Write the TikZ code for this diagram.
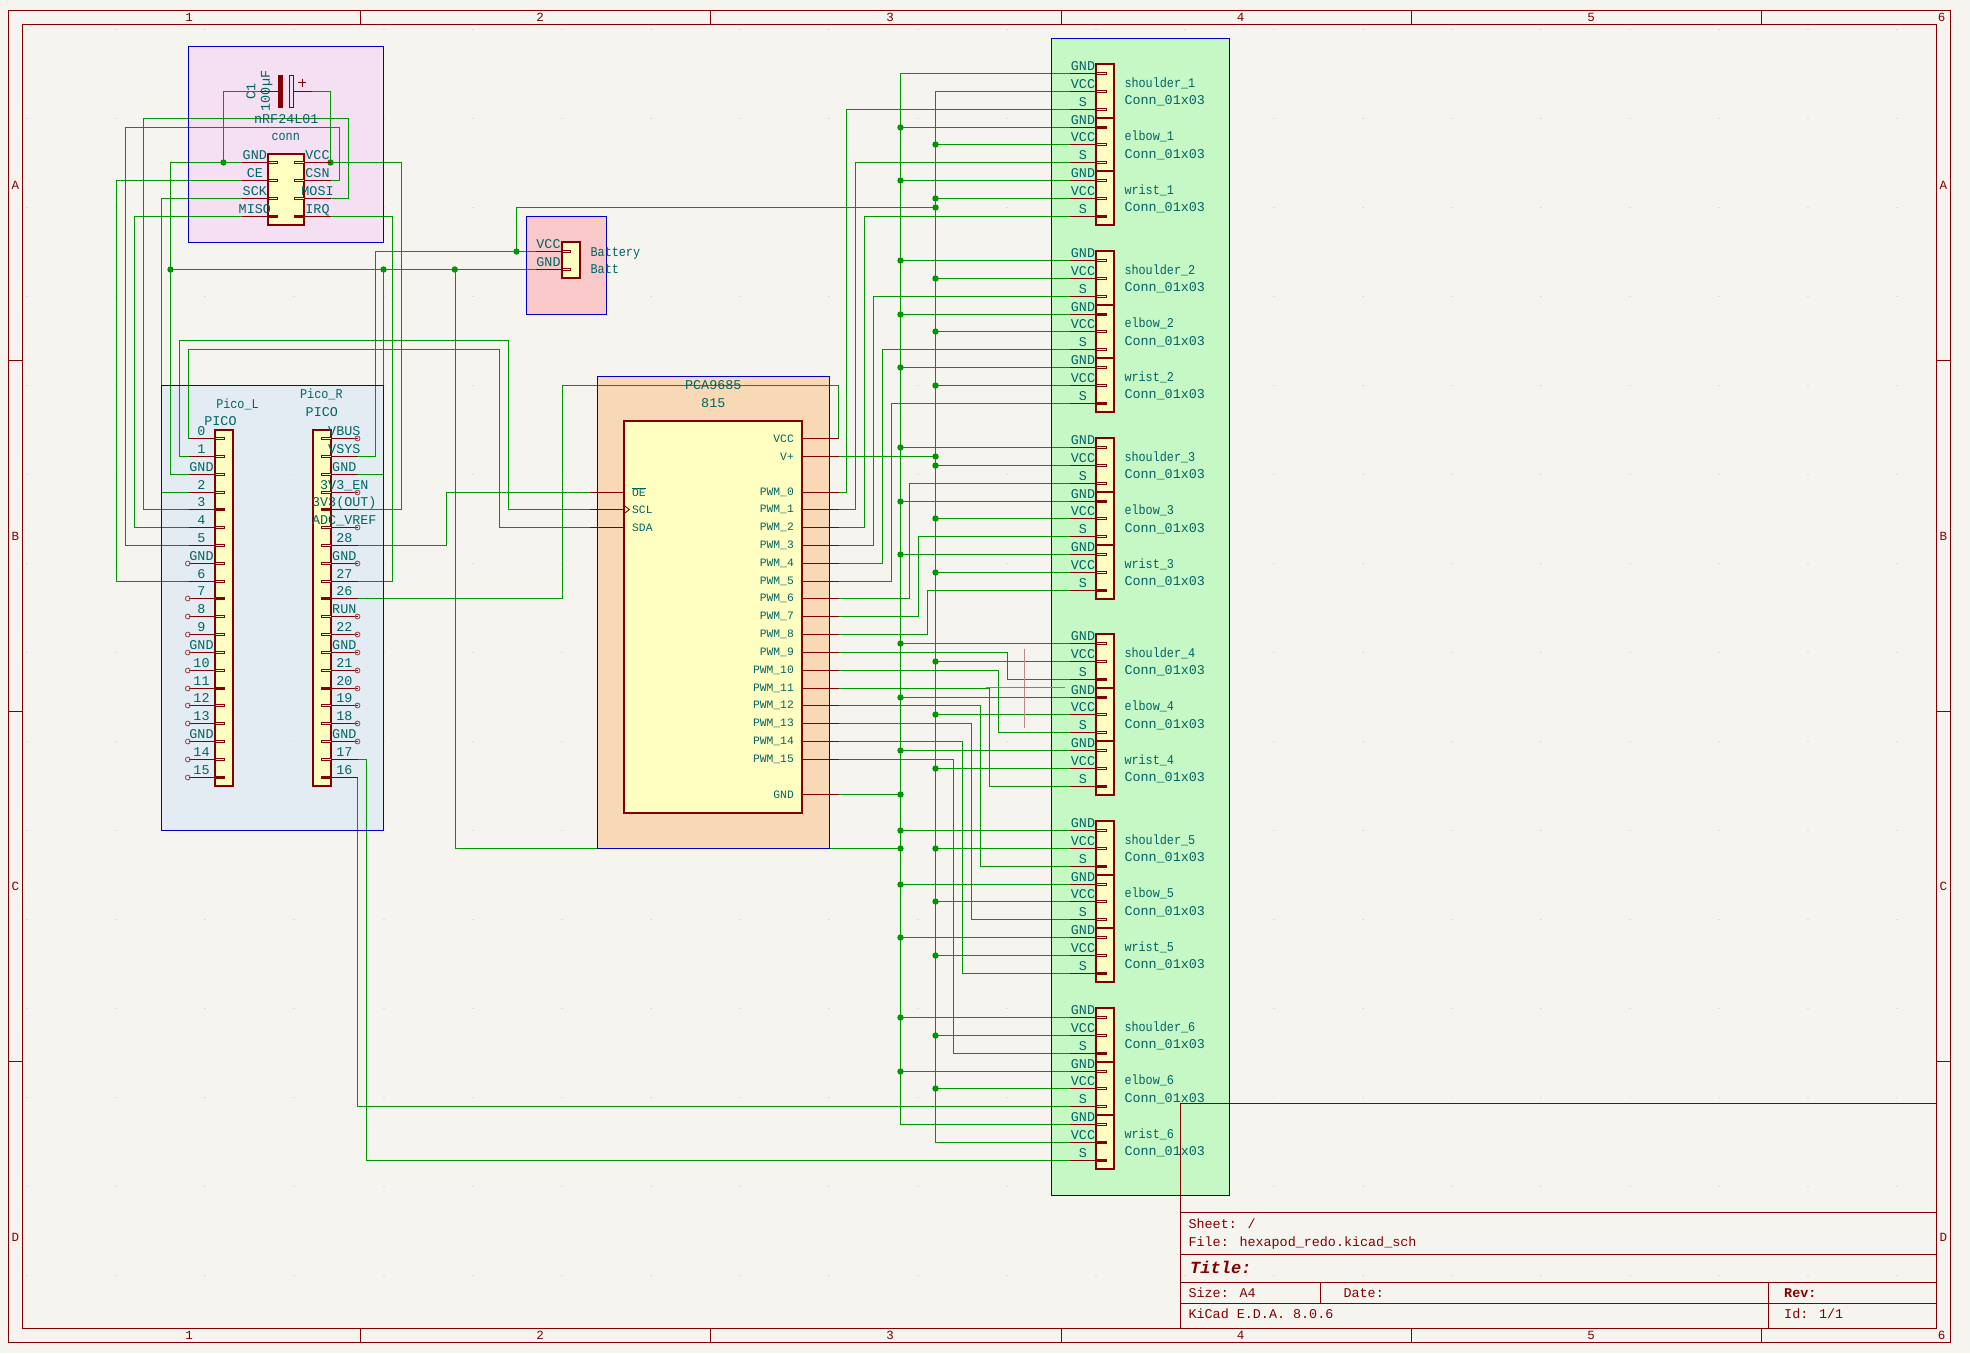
\documentclass[tikz,border=0pt]{standalone}
\usepackage{fontspec}
\usepackage{graphicx}
\usetikzlibrary{calc}
\setmainfont{Liberation Mono}
\definecolor{pagebg}{HTML}{F5F4EF}
\definecolor{wirec}{HTML}{009600}
\definecolor{pinc}{HTML}{840000}
\definecolor{txtc}{HTML}{006464}
\definecolor{bodyf}{HTML}{FFFFC2}
\definecolor{boxb}{HTML}{0000C8}
\definecolor{nrff}{HTML}{F4DFF3}
\definecolor{picof}{HTML}{E4ECF3}
\definecolor{pcaf}{HTML}{F9D9B5}
\definecolor{batf}{HTML}{F9C9C9}
\definecolor{connf}{HTML}{C6F8C6}
\tikzset{
  x=1pt,y=-1pt,
  wire/.style={draw=wirec,line width=1.2pt},
  pinl/.style={draw=pinc,line width=1.1pt},
  stubh/.style={draw=pinc,line width=.8pt,fill=bodyf},
  stubf/.style={draw=pinc,line width=2pt},
  bodyb/.style={draw=pinc,line width=2pt,fill=bodyf},
  sheetb/.style={draw=boxb,line width=1.1pt},
  frame/.style={draw=pinc,line width=1.1pt},
  lbl/.style={inner sep=0pt,text=txtc,font=\fontsize{13.4}{13.4}\selectfont},
  lblsm/.style={inner sep=0pt,text=txtc,font=\fontsize{11.3}{11.3}\selectfont},
  ttl/.style={inner sep=0pt,text=pinc,font=\fontsize{13.4}{13.4}\selectfont,anchor=base west},
  ttb/.style={inner sep=0pt,text=pinc,font=\fontsize{13.4}{13.4}\selectfont\bfseries,anchor=base west},
  frl/.style={inner sep=0pt,text=pinc,font=\fontsize{12.5}{12.5}\selectfont},
  nc/.style={draw=pinc!70!white,line width=.9pt},
}
\newcommand\jn[1]{\fill[wirec] (#1) circle (3.2);}
\newcommand\wirez[3]{\coordinate (tmpz) at (#2,0); \draw[wire] (#1) -- (tmpz|-#1) -- (tmpz|-#3) -- (#3);}
\newcommand\NW[1]{\scalebox{.88}[1]{#1}}
\begin{document}
\begin{tikzpicture}
\useasboundingbox (0,0) rectangle (1970,1353);
\fill[pagebg] (0,0) rectangle (1970,1353);
% sheet box fills
\fill[nrff] (188.5,46.5) rectangle (383.5,242.5);
\fill[batf] (526.5,216.5) rectangle (606.5,314.5);
\fill[picof] (161.5,385.5) rectangle (383.5,830.5);
\fill[pcaf] (597.5,376.5) rectangle (829.5,848.5);
\fill[connf] (1051.5,38.5) rectangle (1229.5,1195.5);
% grid marks
\foreach \k in {0,...,21}{\foreach \m in {0,...,14}{
  \fill[black!13] ({27.3+89.05*\k-1},{29.3+89*\m-.5}) rectangle ({27.3+89.05*\k+1},{29.3+89*\m+.5});
}}
% frame
\draw[frame] (8.5,10.5) rectangle (1950.5,1342.5);
\draw[frame] (22.5,24.5) rectangle (1936.5,1328.5);
\foreach \x in {360.5,710.5,1061.5,1411.5,1761.5}{
  \draw[frame] (\x,10.5) -- (\x,24.5);
  \draw[frame] (\x,1328.5) -- (\x,1342.5);
}
\foreach \y in {360.5,711.5,1061.5}{
  \draw[frame] (8.5,\y) -- (22.5,\y);
  \draw[frame] (1936.5,\y) -- (1950.5,\y);
}
\foreach \x/\t in {189/1,540/2,890/3,1240.5/4,1591/5,1941.7/6}{
  \node[frl] (ct\t) at (\x,17.5) {\t};
  \node[frl] (cb\t) at (\x,1335.3) {\t};
}
\foreach \y/\t in {185/A,536/B,886/C,1237/D}{
  \node[frl] (rl\t) at (15.5,\y) {\t};
  \node[frl] (rr\t) at (1943.3,\y) {\t};
}
% title block
\draw[frame] (1180.5,1328.5) -- (1180.5,1103.5) -- (1936.5,1103.5);
\draw[frame] (1180.5,1212.5) -- (1936.5,1212.5);
\draw[frame] (1180.5,1254.5) -- (1936.5,1254.5);
\draw[frame] (1180.5,1282.5) -- (1936.5,1282.5);
\draw[frame] (1180.5,1303.5) -- (1936.5,1303.5);
\draw[frame] (1320.5,1282.5) -- (1320.5,1303.5);
\draw[frame] (1768.5,1282.5) -- (1768.5,1328.5);
\node[ttl] (tsheet) at (1188.4,1228) {Sheet: /};
\node[ttl] (tfile) at (1188.4,1246.5) {File: hexapod\_redo.kicad\_sch};
\node[ttb,font=\fontsize{17}{17}\selectfont\bfseries\itshape] (ttitle) at (1190,1273) {Title:};
\node[ttl] (tsize) at (1188.4,1297.5) {Size: A4};
\node[ttl] (tdate) at (1343.4,1297.5) {Date:};
\node[ttb] (trev) at (1784,1297.5) {Rev:};
\node[ttl] (tkicad) at (1188.4,1318) {KiCad E.D.A. 8.0.6};
\node[ttl] (tid) at (1784,1318) {Id: 1/1};
% named pin ends
\foreach \i in {0,...,19}{
  \coordinate (L\i) at (188.5,{round(438.02+17.83*\i)+.5});
  \coordinate (R\i) at (357.5,{round(438.02+17.83*\i)+.5});
}
\foreach \i in {0,...,3}{
  \coordinate (nL\i) at (242,{162.5+18*\i});
  \coordinate (nR\i) at (330.5,{162.5+18*\i});
}
\coordinate (bV) at (535.5,251.5);
\coordinate (bG) at (535.5,269.5);
\coordinate (cL) at (260,91.5);
\coordinate (cR) at (312,91.5);
\foreach \k in {0,...,15}{\coordinate (P\k) at (838.5,{round(438.02+17.83*(\k+3))+.5});}
\coordinate (Pc) at (838.5,438.5);
\coordinate (Pv) at (838.5,456.5);
\coordinate (Pg) at (838.5,794.5);
\coordinate (Poe) at (589.5,492.5);
\coordinate (Psc) at (589.5,509.5);
\coordinate (Psd) at (589.5,527.5);
\foreach \g/\b in {1/73,2/260,3/447,4/643,5/830,6/1017}{
  \foreach \i in {0,...,8}{\coordinate (c\g r\i) at (1070,{round(\b+17.85*\i)+.5});}
}
\coordinate (gr) at (900.5,0);
\coordinate (vr) at (935.5,0);
% power rails
\draw[wire] (c1r0) -- (gr|-c1r0) -- (gr|-c6r6) -- (c6r6);
\draw[wire] (c1r1) -- (vr|-c1r1) -- (vr|-c6r7) -- (c6r7);
\foreach \c in {c1r3,c1r6,c2r0,c2r3,c2r6,c3r0,c3r3,c3r6,c4r0,c4r3,c4r6,c5r0,c5r3,c5r6,c6r0,c6r3}{
  \draw[wire] (gr|-\c) -- (\c); \jn{gr|-\c}
}
\foreach \c in {c1r4,c1r7,c2r1,c2r4,c2r7,c3r1,c3r4,c3r7,c4r1,c4r4,c4r7,c5r1,c5r4,c5r7,c6r1,c6r4}{
  \draw[wire] (vr|-\c) -- (\c); \jn{vr|-\c}
}
% PWM wires
\foreach \p/\x/\c in {0/846.5/c1r2,1/855.5/c1r5,2/864.5/c1r8,3/873.5/c2r2,4/882.5/c2r5,5/891.5/c2r8,
  6/909.5/c3r2,7/918.5/c3r5,8/927.5/c3r8,9/1007.5/c4r2,10/998.5/c4r5,11/989.5/c4r8,
  12/980.5/c5r2,13/971.5/c5r5,14/962.5/c5r8,15/953.5/c6r2}{
  \wirez{P\p}{\x}{\c}
}
% nRF wires
\wirez{nL0}{170.5}{L2}
\wirez{nL1}{116.5}{L8}
\wirez{nL2}{161.5}{L3}
\wirez{nL3}{134.5}{L5}
\wirez{nR0}{401.5}{R4}
\wirez{nR3}{392.5}{R8}
\draw[wire] (nR1) -- (339.5,180.5) -- (339.5,127.5) -- (125.5,127.5) -- (125.5,545.5) -- (L6);
\draw[wire] (nR2) -- (348.5,198.5) -- (348.5,118.5) -- (143.5,118.5) -- (143.5,509.5) -- (L4);
\draw[wire] (cL) -- (223.5,91.5) -- (223.5,162.5);
\draw[wire] (cR) -- (330.5,91.5) -- (330.5,162.5);
\draw[wire] (L0) -- (188.5,349.5) -- (499.5,349.5) -- (499.5,527.5) -- (Psd);
\draw[wire] (L1) -- (179.5,456.5) -- (179.5,340.5) -- (508.5,340.5) -- (508.5,509.5) -- (Psc);
% battery
\draw[wire] (bV) -- (375.5,251.5) -- (375.5,456.5) -- (R1);
\draw[wire] (516.5,251.5) -- (516.5,207.5) -- (935.5,207.5);
\draw[wire] (bG) -- (170.5,269.5);
\wirez{bG}{383.5}{R2}
\draw[wire] (455.5,269.5) -- (455.5,848.5) -- (900.5,848.5);
% Pico to PCA
\wirez{R6}{446.5}{Poe}
\draw[wire] (R9) -- (562.5,598.5) -- (562.5,385.5) -- (838.5,385.5) -- (838.5,438.5) -- (Pc);
\draw[wire] (Pv) -- (vr|-Pv);
\draw[wire] (Pg) -- (gr|-Pg);
\wirez{R18}{366.5}{c6r8}
\wirez{R19}{357.5}{c6r5}
% sheet box outlines, over the wires
\draw[sheetb] (188.5,46.5) rectangle (383.5,242.5);
\draw[sheetb] (526.5,216.5) rectangle (606.5,314.5);
\draw[sheetb] (161.5,385.5) rectangle (383.5,830.5);
\draw[sheetb] (597.5,376.5) rectangle (829.5,848.5);
\draw[sheetb] (1051.5,38.5) rectangle (1229.5,1195.5);
% junctions
\jn{223.5,162.5}\jn{330.5,162.5}\jn{516.5,251.5}\jn{170.5,269.5}\jn{383.5,269.5}\jn{454.8,269.5}
\jn{935.5,207.5}\jn{vr|-Pv}\jn{gr|-Pg}\jn{900.5,848.5}
% cursor cross
\draw[pinc!45!pagebg,line width=1pt] (1024.5,648.5) -- (1024.5,727.5);
\draw[pinc!35!black!50!pagebg,line width=1pt] (985.5,687.5) -- (1065,687.5);
% connector symbols
\foreach \g/\b in {1/73,2/260,3/447,4/643,5/830,6/1017}{
  \foreach \k/\nm in {0/shoulder,1/elbow,2/wrist}{
    \draw[bodyb] (1096,{round(\b-9+53.55*\k)}) rectangle (1114,{round(\b-9+53.55*(\k+1))});
    \node[lbl,anchor=base west] (nm\g\k) at (1124.3,{\b+53.55*\k+14}) {\NW{\nm\_\g}};
    \node[lbl,anchor=base west] (vl\g\k) at (1124.3,{\b+53.55*\k+31.5}) {Conn\_01x03};
  }
  \foreach \i/\t in {0/GND,1/VCC,2/S,3/GND,4/VCC,5/S,6/GND,7/VCC,8/S}{
    \draw[pinl] (c\g r\i) -- ++(26,0);
    \draw[stubh] ($(c\g r\i)+(26,-1.1)$) rectangle ($(c\g r\i)+(36,1.1)$);
    \node[lbl,anchor=base] (pl\g\i) at ($(c\g r\i)+(13,-3)$) {\t};
  }
}
\foreach \g/\i in {1/3,1/8,2/3,2/8,3/3,3/8,4/2,4/3,4/8,5/2,5/8,6/2,6/7,6/8}{
  \draw[stubf] ($(c\g r\i)+(26,0)$) -- ($(c\g r\i)+(36,0)$);
}
% Pico symbols
\draw[bodyb] (215,430) rectangle (233,786);
\draw[bodyb] (313,430) rectangle (331,786);
\foreach \i/\t in {0/0,1/1,2/GND,3/2,4/3,5/4,6/5,7/GND,8/6,9/7,10/8,11/9,12/GND,13/10,14/11,15/12,16/13,17/GND,18/14,19/15}{
  \draw[pinl] (L\i) -- ++(26.5,0);
  \draw[stubh] ($(L\i)+(26.5,-1.1)$) rectangle ($(L\i)+(35.5,1.1)$);
  \node[lbl,anchor=base] (ll\i) at ($(L\i)+(13,-3)$) {\t};
}
\foreach \i/\t in {0/VBUS,1/VSYS,2/GND,3/3V3\_EN,4/3V3(OUT),5/ADC\_VREF,6/28,7/GND,8/27,9/26,10/RUN,11/22,12/GND,13/21,14/20,15/19,16/18,17/GND,18/17,19/16}{
  \draw[pinl] (R\i) -- ++(-26.5,0);
  \draw[stubh] ($(R\i)+(-26.5,-1.1)$) rectangle ($(R\i)+(-36,1.1)$);
  \node[lbl,anchor=base] (rl\i) at ($(R\i)+(-13.2,-3)$) {\t};
}
\foreach \i in {4,9,14,19}{
  \draw[stubf] ($(L\i)+(26.5,0)$) -- ($(L\i)+(35.5,0)$);
  \draw[stubf] ($(R\i)+(-26.5,0)$) -- ($(R\i)+(-36,0)$);
}
\foreach \i in {7,9,10,11,12,13,14,15,16,17,18,19}{\draw[nc] ($(L\i)+(-.7,0)$) circle (2.4);}
\foreach \i in {0,3,5,7,10,11,12,13,14,15,16,17}{\draw[nc] (R\i) circle (2.4);}
\node[lbl,anchor=center] (pLn) at (237.5,404.7) {\NW{Pico\_L}};
\node[lbl,anchor=center] (pLv) at (220.5,420.7) {PICO};
\node[lbl,anchor=center] (pRn) at (321.4,394) {\NW{Pico\_R}};
\node[lbl,anchor=center] (pRv) at (321.8,412) {PICO};
% nRF symbol
\draw[bodyb] (268,154) rectangle (304,225);
\foreach \i/\a/\b in {0/GND/VCC,1/CE/CSN,2/SCK/MOSI,3/MISO/IRQ}{
  \draw[pinl] (nL\i) -- ++(26,0);
  \draw[pinl] (nR\i) -- ++(-26.5,0);
  \draw[stubh] ($(nL\i)+(26,-1.1)$) rectangle ($(nL\i)+(35.7,1.1)$);
  \draw[stubh] ($(nR\i)+(-26.5,-1.1)$) rectangle ($(nR\i)+(-36,1.1)$);
  \node[lbl,anchor=base] (nl\i) at ($(nL\i)+(12.8,-3)$) {\a};
  \node[lbl,anchor=base] (nr\i) at ($(nR\i)+(-13,-3)$) {\b};
}
\draw[stubf] ($(nL3)+(26,0)$) -- ($(nL3)+(35.7,0)$);
\draw[stubf] ($(nR3)+(-26.5,0)$) -- ($(nR3)+(-36,0)$);
\node[lbl,anchor=center] (nrfn) at (286.3,119) {nRF24L01};
\node[lbl,anchor=center] (nrfv) at (285.7,137.3) {\NW{conn}};
% capacitor
\draw[pinl] (cL) -- (278.3,91.5);
\draw[pinl] (cR) -- (293.7,91.5);
\fill[pinc] (278.3,75) rectangle (282.7,107.7);
\draw[pinc,line width=.9pt] (289.3,75) rectangle (293.7,107.7);
\draw[pinc,line width=.9pt] (298.2,82.7) -- (305.8,82.7) (302,78.9) -- (302,86.5);
\node[lbl,anchor=center,rotate=90] (capr) at (251,91.7) {C1};
\node[lbl,anchor=center,rotate=90] (capv) at (266.7,91) {100µF};
% battery symbol
\draw[bodyb] (562,242) rectangle (580,278);
\foreach \c/\t in {bV/VCC,bG/GND}{
  \draw[pinl] (\c) -- ++(26.5,0);
  \draw[stubh] ($(\c)+(26.5,-1.1)$) rectangle ($(\c)+(35.2,1.1)$);
  \node[lbl,anchor=base] (b\t) at ($(\c)+(13,-3)$) {\t};
}
\node[lbl,anchor=base west] (batn) at (590.4,256.2) {\NW{Battery}};
\node[lbl,anchor=base west] (batv) at (590.4,273.8) {\NW{Batt}};
% PCA symbol
\draw[bodyb] (624,421) rectangle (802,813);
\node[lbl,anchor=center] (pcan) at (713.3,384.7) {PCA9685};
\node[lbl,anchor=center] (pcav) at (713.3,402.7) {815};
\draw[pinl] (Pc) -- (803,438.5);
\draw[pinl] (Pv) -- (803,456.5);
\draw[pinl] (Pg) -- (803,794.5);
\node[lblsm,anchor=base east] (pvcc) at (794,442) {VCC};
\node[lblsm,anchor=base east] (pvp) at (794,460) {V+};
\node[lblsm,anchor=base east] (pgnd) at (794,798) {GND};
\foreach \k in {0,...,15}{
  \draw[pinl] (P\k) -- ++(-35.5,0);
  \node[lblsm,anchor=east] (pw\k) at ($(P\k)+(-44.5,0)$) {PWM\_\k};
}
\draw[pinl] (Poe) -- ++(34.5,0);
\draw[pinl] (Psc) -- ++(34.5,0);
\draw[pinl] (Psd) -- ++(34.5,0);
\draw[pinc,line width=.9pt] (624,505.3) -- (629.3,509.5) -- (624,513.7);
\node[lblsm,anchor=west] (poe) at (632,492) {$\overline{\hbox{OE}}$};
\node[lblsm,anchor=west] (psc) at (632,509.8) {SCL};
\node[lblsm,anchor=west] (psd) at (632,527.5) {SDA};
\end{tikzpicture}
\end{document}
